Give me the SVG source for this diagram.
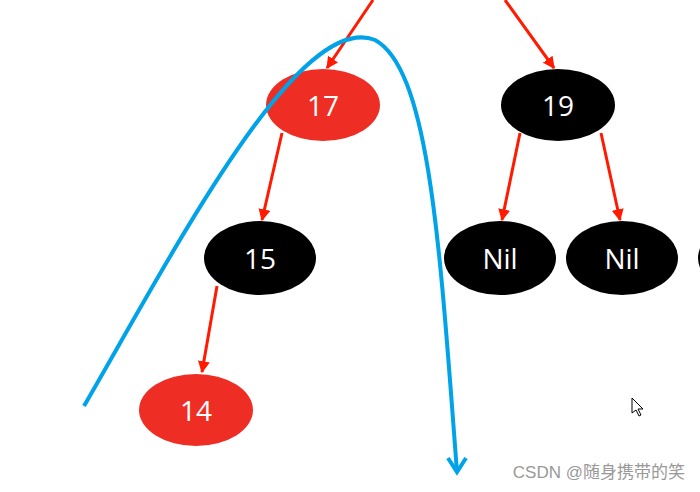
<svg xmlns="http://www.w3.org/2000/svg" width="700" height="492" viewBox="0 0 700 492">
<style>
.r{fill:#ee2e24}.b{fill:#000}
.t{fill:#fff;font-family:"Open Sans","Noto Sans",sans-serif;font-size:28px;text-anchor:middle;dominant-baseline:central}
.e{stroke:#ff1a00;stroke-width:3;fill:none;marker-end:url(#a)}
</style>
<defs><marker id="a" viewBox="0 0 10 10" refX="9" refY="5" markerWidth="4" markerHeight="4" orient="auto" markerUnits="strokeWidth"><path d="M0,0L10,5L0,10z" fill="#ff1a00"/></marker></defs>
<rect width="700" height="492" fill="#fff"/>
<g id="n17"><ellipse class="r" cx="323" cy="105" rx="57" ry="36"/><text class="t" x="323" y="105">17</text></g>
<g id="n19"><ellipse class="b" cx="558" cy="105" rx="57" ry="36"/><text class="t" x="558" y="105">19</text></g>
<g id="n15"><ellipse class="b" cx="260" cy="258" rx="56" ry="37"/><text class="t" x="260" y="258">15</text></g>
<g id="nil1"><ellipse class="b" cx="500" cy="258" rx="56" ry="37"/><text class="t" x="500" y="258">Nil</text></g>
<g id="nil2"><ellipse class="b" cx="622" cy="258" rx="56" ry="37"/><text class="t" x="622" y="258">Nil</text></g>
<g id="nil3"><ellipse class="b" cx="755" cy="258" rx="57" ry="37"/></g>
<g id="n14"><ellipse class="r" cx="196" cy="410" rx="57" ry="36"/><text class="t" x="196" y="410">14</text></g>
<g id="edges">
<line class="e" x1="373" y1="0" x2="327" y2="68"/>
<line class="e" x1="505" y1="0" x2="554" y2="68"/>
<line class="e" x1="282" y1="133" x2="262" y2="220"/>
<line class="e" x1="520" y1="133" x2="502" y2="220"/>
<line class="e" x1="601" y1="133" x2="620" y2="220"/>
<line class="e" x1="217" y1="286" x2="202" y2="372"/>
<path d="M84,406 C180,240 300,10 375,40 C430,70 440,250 457,472" stroke="#00a2e8" stroke-width="4" fill="none"/>
<path d="M448,458 L457,472 L466,458" stroke="#00a2e8" stroke-width="4" fill="none"/>
</g>
<path d="M632,398 L632,413 L636,410 L639,416 L641,415 L638,409 L643,409 Z" fill="#fff" stroke="#000" stroke-width="1"/>
<text x="685" y="478" text-anchor="end" font-family="Liberation Sans,'Noto Sans CJK SC',sans-serif" font-size="17" fill="#999">CSDN @随身携带的笑</text>
</svg>
